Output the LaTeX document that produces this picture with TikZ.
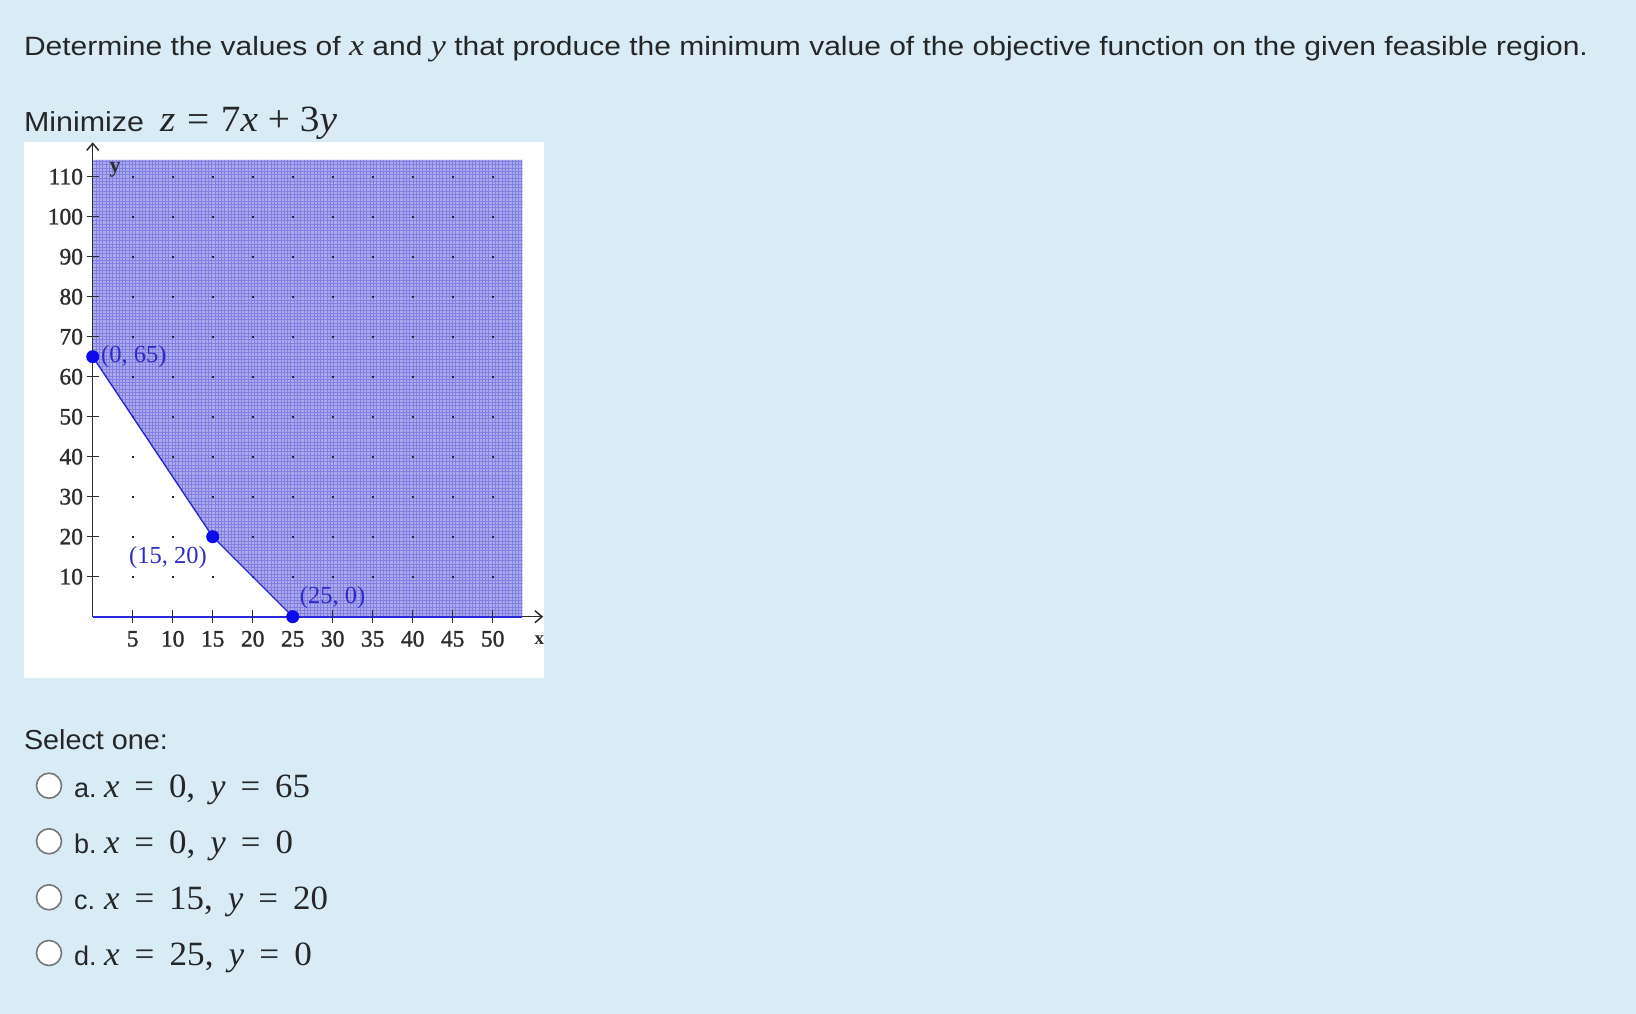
\documentclass[tikz,border=0pt]{standalone}
\usepackage{fontspec}
\usepackage{graphicx}
\setmainfont{Liberation Sans}
\newfontfamily\tms{Liberation Serif}
\newfontfamily\tmsb[FakeBold=1.2]{Liberation Serif}
\usetikzlibrary{arrows.meta}
\definecolor{bgc}{RGB}{217,236,246}
\definecolor{txtc}{RGB}{38,38,38}
\definecolor{axisc}{RGB}{45,45,45}
\definecolor{ptblue}{RGB}{10,10,235}
\definecolor{bndc}{RGB}{40,40,220}
\definecolor{lblblue}{RGB}{45,45,195}
\definecolor{shadec}{RGB}{172,172,236}
\definecolor{meshc}{RGB}{128,128,226}
\definecolor{radioc}{RGB}{118,118,118}
\definecolor{latdot}{RGB}{35,35,55}
\newsavebox\fitbox
\newlength\fitl
\newcommand\fitw[2]{\sbox\fitbox{#2}\fitl=\wd\fitbox\pgfmathsetmacro\fitr{#1/\fitl}\scalebox{\fitr}[1]{\usebox\fitbox}}
\newcommand\mi[1]{{\tms\itshape #1}}
\newcommand\eqs{\hspace{.43em}=\hspace{.43em}}
\newcommand\optrow[5]{%
  \node[radiobtn] (r#1) at (49,#3-12) {};
  \node[txt,anchor=base west] (l#1) at (74,#3) {\fontsize{27}{30}\selectfont #2.};
  \node[txt,anchor=base west] (m#1) at (104,#3) {\fitw{#4}{\tms\fontsize{34}{36}\selectfont #5}};
}
\begin{document}
\begin{tikzpicture}[x=1pt,y=-1pt,
  txt/.style={inner sep=0pt,outer sep=0pt,text=txtc},
  radiobtn/.style={circle,draw=radioc,line width=1.6pt,fill=white,minimum size=25pt,inner sep=0pt},
  vertex/.style={circle,fill=ptblue,minimum size=13pt,inner sep=0pt},
  axisline/.style={draw=axisc,line width=1.5pt},
  tickline/.style={draw=axisc,line width=1.3pt},
  ticklbl/.style={inner sep=0pt,text=axisc,font=\tmsb\fontsize{23.5}{24}\selectfont},
  ptlbl/.style={inner sep=0pt,text=lblblue,font=\tms\fontsize{24.5}{25}\selectfont},
  axname/.style={inner sep=0pt,text=axisc,font=\tms\bfseries\fontsize{19}{19}\selectfont},
  bound/.style={draw=bndc,line width=1.4pt},
  mesh/.style={draw=meshc,line width=0.5pt}
]
\fill[bgc] (0,0) rectangle (1636,1014);
\path[use as bounding box] (0,0) rectangle (1636,1014);

% texts
\node[txt,anchor=base west] (title) at (24,56) {\fitw{1564}{\fontsize{26.5}{32}\selectfont Determine the values of {\fontsize{30}{32}\selectfont\mi{x}} and {\fontsize{30}{32}\selectfont\mi{y}} that produce the minimum value of the objective function on the given feasible region.}};
\node[txt,anchor=base west] (minlbl) at (24,131.5) {\fitw{120}{\fontsize{27.5}{32}\selectfont Minimize}};
\node[txt,anchor=base west] (objfn) at (160,131.5) {\fitw{177}{\tms\fontsize{37}{40}\selectfont\mi{z}\hspace{.3em}=\hspace{.3em}7\mi{x}\hspace{.25em}+\hspace{.25em}3\mi{y}}};

% graph panel
\fill[white] (24,142) rectangle (544,678);
\begin{scope}[shift={(92.7pt,-616.7pt)},x=8pt,y=4pt]
  \coordinate (O) at (0,0);
  \coordinate (A) at (0,65);
  \coordinate (B) at (15,20);
  \coordinate (C) at (25,0);
  \coordinate (D) at (53.7,0);
  \coordinate (E) at (53.7,114.2);
  \coordinate (F) at (0,114.2);
  \coordinate (ytip) at (0,118.6);
  \coordinate (xtip) at (56.3,0);
  \begin{scope}
    \clip (A) -- (B) -- (C) -- (D) -- (E) -- (F) -- cycle;
    \fill[shadec] (-1,-1) rectangle (55,116);
    \draw[mesh,step=3.3pt] (-1,-1) grid (55,116);
  \end{scope}
  \foreach \i in {5,10,...,50}{\foreach \j in {10,20,...,110}{
    \fill[latdot] (\i,\j) ++(-1.1pt,-1.1pt) rectangle ++(2.2pt,2.2pt);}}
  \draw[axisline,-{Straight Barb[length=7pt,width=12pt]}] (O) -- (ytip);
  \draw[axisline,-{Straight Barb[length=7pt,width=12pt]}] (O) -- (xtip);
  \draw[bound,line width=2pt] (O) -- (D);
  \draw[bound] (A) -- (B) -- (C);
  \foreach \j in {10,20,...,110}{
    \draw[tickline] (0,\j) ++(-6pt,0) -- ++(12pt,0);
    \node[ticklbl,anchor=east,xshift=-9.5pt] (yl\j) at (0,\j) {\j};}
  \foreach \i in {5,10,...,50}{
    \draw[tickline] (\i,0) ++(0,-6.5pt) -- ++(0,13pt);
    \node[ticklbl,anchor=base,yshift=-29.8pt] (xl\i) at (\i,0) {\i};}
  \node[vertex] (vA) at (A) {};
  \node[vertex] (vB) at (B) {};
  \node[vertex] (vC) at (C) {};
\end{scope}
\node[axname] (xname) at (539.3,640) {x};
\node[axname,font=\tms\bfseries\fontsize{22}{22}\selectfont] (yname) at (115,170) {y};
\node[ptlbl,anchor=west] (lA) at (101,356.5) {(0, 65)};
\node[ptlbl] (lB) at (168,558) {(15, 20)};
\node[ptlbl] (lC) at (332.5,598) {(25, 0)};

% answers
\node[txt,anchor=base west] (sel) at (24,749.3) {\fitw{144}{\fontsize{27.5}{32}\selectfont Select one:}};
\optrow{a}{a}{797.7}{206}{\mi{x}\eqs0,\hspace{.43em}\mi{y}\eqs65}
\optrow{b}{b}{853.3}{189}{\mi{x}\eqs0,\hspace{.43em}\mi{y}\eqs0}
\optrow{c}{c}{909.3}{224}{\mi{x}\eqs15,\hspace{.43em}\mi{y}\eqs20}
\optrow{d}{d}{965}{208}{\mi{x}\eqs25,\hspace{.43em}\mi{y}\eqs0}
\end{tikzpicture}
\end{document}
